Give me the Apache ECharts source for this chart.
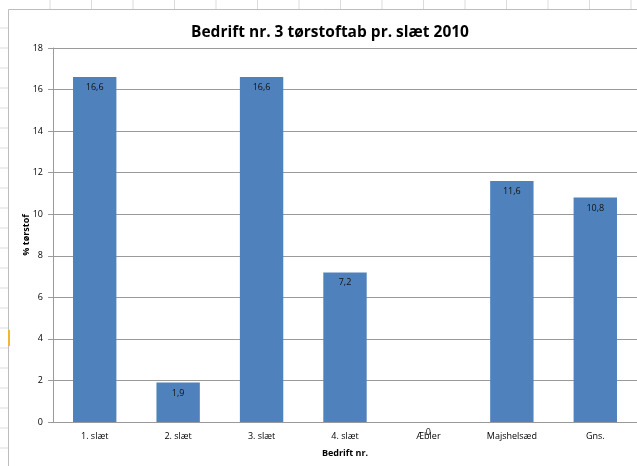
<!DOCTYPE html>
<html><head><meta charset="utf-8">
<script src="https://cdn.jsdelivr.net/npm/echarts@6/dist/echarts.min.js"></script>
<style>html,body{margin:0;padding:0;background:#fff}#c{width:637px;height:466px}</style>
</head><body><div id="c"></div>
<script>
const categories = ['1. slæt', '2. slæt', '3. slæt', '4. slæt', 'Æbler', 'Majshelsæd', 'Gns.'];
const values = [16.6, 1.9, 16.6, 7.2, 0, 11.6, 10.8];
const yTicks = { min: 0, max: 18, interval: 2 };

const chart = echarts.init(document.getElementById('c'));
const deco = [];
deco.push({type:'line', shape:{x1:8.5,y1:9.5,x2:637,y2:9.5}, style:{stroke:'#bdbdbd',lineWidth:1}});
deco.push({type:'line', shape:{x1:8.5,y1:9.5,x2:8.5,y2:466}, style:{stroke:'#bdbdbd',lineWidth:1}});
for (let x = 50; x < 637; x += 41.5) deco.push({type:'line', shape:{x1:x,y1:0,x2:x,y2:9}, style:{stroke:'#dcdcdc',lineWidth:1}});
for (let y = 28; y < 466; y += 20) deco.push({type:'line', shape:{x1:0,y1:y,x2:8,y2:y}, style:{stroke:'#dcdcdc',lineWidth:1}});
deco.push({type:'rect', shape:{x:8,y:330,width:2,height:16}, style:{fill:'#f2b632'}});

chart.setOption({
  animation: false,
  title: {
    text: 'Bedrift nr. 3 tørstoftab pr. slæt 2010',
    left: 325, top: 20, textAlign: 'center',
    textStyle: { fontFamily: 'Open Sans', fontWeight: 'bold', fontSize: 15.5, color: '#000' }
  },
  graphic: deco,
  grid: { left: 53, top: 48, width: 589, height: 374 },
  xAxis: {
    type: 'category', data: categories,
    name: 'Bedrift nr.', nameLocation: 'middle', nameGap: 27, nameMoveOverlap: false,
    nameTextStyle: { fontFamily: 'Open Sans', fontWeight: 'bold', fontSize: 9, color: '#000' },
    axisLine: { lineStyle: { color: '#9a9a9a' } },
    axisTick: { show: false },
    axisLabel: { fontFamily: 'Open Sans', fontSize: 9, color: '#000', margin: 10 }
  },
  yAxis: {
    type: 'value', min: yTicks.min, max: yTicks.max, interval: yTicks.interval,
    name: '% tørstof', nameLocation: 'middle', nameGap: 22, nameRotate: 90, nameMoveOverlap: false,
    nameTextStyle: { fontFamily: 'Open Sans', fontWeight: 'bold', fontSize: 9, color: '#000' },
    axisLine: { show: true, lineStyle: { color: '#9a9a9a' } },
    axisTick: { show: true, length: 5, lineStyle: { color: '#9a9a9a' } },
    splitLine: { lineStyle: { color: '#9a9a9a' } },
    axisLabel: { fontFamily: 'Open Sans', fontSize: 9, color: '#000', margin: 10 }
  },
  series: [{
    type: 'bar', data: values, barCategoryGap: '48%',
    itemStyle: { color: '#4F81BD' },
    label: {
      show: true, position: 'insideTop', distance: 6,
      fontFamily: 'Open Sans', fontSize: 9, color: '#111',
      formatter: p => String(p.value).replace('.', ',')
    }
  }]
});
</script></body></html>
